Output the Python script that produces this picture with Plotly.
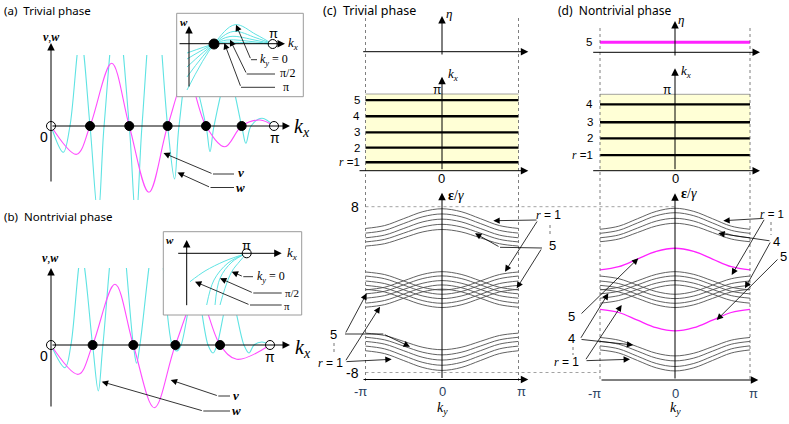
import plotly.graph_objects as go

W, H = 789, 424
SERIF = "Liberation Serif"
SANS = "Liberation Sans"
TITLEF = "Noto Sans"
CYAN = "#5fe3e3"
MAG = "#ff4cff"
BAND = "#505050"

# ---------------- (a) trivial phase : v (magenta), w (cyan) vs kx/pi ----------------
a_kx_v = [0, 0.115, 0.175, 0.272, 0.351, 0.439, 0.523, 0.609, 0.695, 0.78, 0.855, 0.937, 1.0]
a_v = [0, -2.83, 0, 6.27, 0, -6.63, 0, 5.0, 0, -2.07, 0, 0.6, 0]
a_kx_w = [0, 0.055, 0.085, 0.132, 0.175, 0.211, 0.238, 0.294, 0.351, 0.381, 0.408, 0.464,
          0.523, 0.554, 0.574, 0.619, 0.695, 0.713, 0.731, 0.794, 0.855, 0.874, 0.897, 0.946, 1.0]
a_w = [0, -2.63, 0, 9, 0, -9, 0, 12, 0, -9.5, 0, 14,
       0, -5.3, 0, 6, 0, -2.57, 0, 5, 0, -1.73, 0, 0.77, 0]
a_roots = [0.175, 0.351, 0.523, 0.695, 0.855]
a_ends = [0, 1]
# inset of (a): w near a root for several ky (ky = 0 ... pi)
a_in_kx = [[-0.024, 0.299, 0.55, 0.8, 1.0],
           [-0.024, 0.299, 0.526, 0.8, 1.0],
           [-0.024, 0.299, 0.49, 0.8, 1.0],
           [-0.024, 0.299, 0.454, 0.8, 1.0],
           [-0.024, 0.299, 0.418, 0.8, 1.0]]
a_in_w = [[-4.6, 0, 1.93, 0.95, 0],
          [-3.3, 0, 1.25, 0.62, 0],
          [-2.3, 0, 0.75, 0.37, 0],
          [-1.5, 0, 0.4, 0.2, 0],
          [-0.9, 0, 0.17, 0.08, 0]]
a_in_root = [0.299]

# ---------------- (b) nontrivial phase ----------------
b_kx_v = [0, 0.125, 0.19, 0.292, 0.376, 0.472, 0.568, 0.671, 0.772, 0.848, 1.0]
b_v = [0, -2.93, 0, 6.07, 0, -6.27, 0, 5.0, 0, -1.43, 0]
b_kx_w = [0, 0.064, 0.091, 0.139, 0.19, 0.216, 0.237, 0.306, 0.376, 0.391, 0.406, 0.484,
          0.553, 0.575, 0.594, 0.658, 0.717, 0.74, 0.758, 0.817, 0.881, 0.904, 0.927, 0.963, 1.0]
b_w = [0, -2.27, 0, 9, 0, -4.6, 0, 14, 0, -1.83, 0, 12,
       0, -0.6, 0, 6, 0, -0.8, 0, 5, 0, -0.8, 0, 0.3, 0]
b_roots = [0.19, 0.376, 0.568, 0.772]
b_ends = [0, 1]
b_in_kx = [[0.555, 0.638, 0.75, 0.888, 1.0],
           [0.472, 0.555, 0.755, 1.0],
           [0.333, 0.455, 0.688, 1.0],
           [0.055, 0.305, 0.638, 1.0]]
b_in_w = [[-5.17, -3.5, -1.84, -0.77, 0],
          [-5.17, -2.5, -0.87, 0],
          [-5.17, -2.67, -0.97, 0],
          [-2.84, -1.77, -0.77, 0]]
b_in_end = [1.0]

# ---------------- (c)/(d) bands, eps/gamma vs ky/pi ----------------
ky = [-1, -0.75, -0.5, -0.25, 0, 0.25, 0.5, 0.75, 1]
c_top = [[5.9, 6.18, 6.85, 7.52, 7.8, 7.52, 6.85, 6.18, 5.9],
         [5.45, 5.72, 6.38, 7.03, 7.3, 7.03, 6.38, 5.72, 5.45],
         [5.0, 5.26, 5.9, 6.54, 6.8, 6.54, 5.9, 5.26, 5.0],
         [4.6, 4.85, 5.45, 6.05, 6.3, 6.05, 5.45, 4.85, 4.6],
         [4.2, 4.43, 5.0, 5.57, 5.8, 5.57, 5.0, 4.43, 4.2]]
c_mid_cap = [[-0.03, 0.23, 0.85, 1.47, 1.73, 1.47, 0.85, 0.23, -0.03],
             [-0.41, -0.16, 0.46, 1.07, 1.32, 1.07, 0.46, -0.16, -0.41],
             [-0.83, -0.58, 0.02, 0.62, 0.87, 0.62, 0.02, -0.58, -0.83],
             [-1.31, -1.05, -0.43, 0.19, 0.45, 0.19, -0.43, -1.05, -1.31],
             [-1.70, -1.45, -0.83, -0.21, 0.04, -0.21, -0.83, -1.45, -1.70]]
c_mid_cup = [[0.03, -0.23, -0.85, -1.47, -1.73, -1.47, -0.85, -0.23, 0.03],
             [0.41, 0.16, -0.46, -1.07, -1.32, -1.07, -0.46, 0.16, 0.41],
             [0.83, 0.58, -0.02, -0.62, -0.87, -0.62, -0.02, 0.58, 0.83],
             [1.31, 1.05, 0.43, -0.19, -0.45, -0.19, 0.43, 1.05, 1.31],
             [1.70, 1.45, 0.83, 0.21, -0.04, 0.21, 0.83, 1.45, 1.70]]
c_bot = [[-5.9, -6.18, -6.85, -7.52, -7.8, -7.52, -6.85, -6.18, -5.9],
         [-5.45, -5.72, -6.38, -7.03, -7.3, -7.03, -6.38, -5.72, -5.45],
         [-5.0, -5.26, -5.9, -6.54, -6.8, -6.54, -5.9, -5.26, -5.0],
         [-4.6, -4.85, -5.45, -6.05, -6.3, -6.05, -5.45, -4.85, -4.6],
         [-4.2, -4.43, -5.0, -5.57, -5.8, -5.57, -5.0, -4.43, -4.2]]
c_kx_lines = [0.11, 0.30, 0.50, 0.71, 0.92]
c_kx_labels = ["r=1", "2", "3", "4", "5"]

d_top = [[5.82, 6.12, 6.84, 7.55, 7.85, 7.55, 6.84, 6.12, 5.82],
         [5.43, 5.72, 6.43, 7.13, 7.42, 7.13, 6.43, 5.72, 5.43],
         [5.0, 5.27, 5.94, 6.61, 6.88, 6.61, 5.94, 5.27, 5.0],
         [4.62, 4.88, 5.51, 6.14, 6.40, 6.14, 5.51, 4.88, 4.62]]
d_mid_cap = [[-0.03, 0.23, 0.85, 1.47, 1.73, 1.47, 0.85, 0.23, -0.03],
             [-0.41, -0.16, 0.46, 1.07, 1.32, 1.07, 0.46, -0.16, -0.41],
             [-0.83, -0.58, 0.02, 0.62, 0.87, 0.62, 0.02, -0.58, -0.83],
             [-1.31, -1.05, -0.43, 0.19, 0.45, 0.19, -0.43, -1.05, -1.31]]
d_mid_cup = [[0.03, -0.23, -0.85, -1.47, -1.73, -1.47, -0.85, -0.23, 0.03],
             [0.41, 0.16, -0.46, -1.07, -1.32, -1.07, -0.46, 0.16, 0.41],
             [0.83, 0.58, -0.02, -0.62, -0.87, -0.62, -0.02, 0.58, 0.83],
             [1.31, 1.05, 0.43, -0.19, -0.45, -0.19, 0.43, 1.05, 1.31]]
d_bot = [[-5.82, -6.12, -6.84, -7.55, -7.85, -7.55, -6.84, -6.12, -5.82],
         [-5.43, -5.72, -6.43, -7.13, -7.42, -7.13, -6.43, -5.72, -5.43],
         [-5.0, -5.27, -5.94, -6.61, -6.88, -6.61, -5.94, -5.27, -5.0],
         [-4.62, -4.88, -5.51, -6.14, -6.40, -6.14, -5.51, -4.88, -4.62]]
d_edge_upper = [1.9, 2.21, 2.95, 3.68, 3.99, 3.68, 2.95, 2.21, 1.9]
d_edge_lower = [-1.9, -2.21, -2.95, -3.68, -3.99, -3.68, -2.95, -2.21, -1.9]
d_kx_lines = [0.205, 0.424, 0.634, 0.869]
d_kx_labels = ["r=1", "2", "3", "4"]
d_eta = [1.0]
d_eta_label = "5"
bz_ky = [-1, 1]

# ---------------- helpers ----------------
fig = go.Figure()
L = dict(width=W, height=H, margin=dict(l=0, r=0, t=0, b=0), paper_bgcolor="white",
         plot_bgcolor="white", showlegend=False)
anns, shapes = [], []


def lin(pa, pb, p0, v0, p1, v1):
    s = (v1 - v0) / (p1 - p0)
    return [v0 + (pa - p0) * s, v0 + (pb - p0) * s]


def axes(n, xpx, ypx, xmap, ymap):
    sfx = "" if n == 1 else str(n)
    L["xaxis" + sfx] = dict(domain=[xpx[0] / W, xpx[1] / W], range=lin(xpx[0], xpx[1], *xmap),
                            anchor="y" + sfx, visible=False, fixedrange=True)
    L["yaxis" + sfx] = dict(domain=[1 - ypx[1] / H, 1 - ypx[0] / H], range=lin(ypx[1], ypx[0], *ymap),
                            anchor="x" + sfx, visible=False, fixedrange=True)
    return "x" + sfx, "y" + sfx


def akey(a):
    return a[0] + "axis" + a[1:]


def curve(x, y, xa, ya, color, width, shape="spline"):
    fig.add_trace(go.Scatter(x=x, y=y, xaxis=xa, yaxis=ya, mode="lines",
                             line=dict(color=color, width=width, shape=shape), hoverinfo="skip"))


def dots(x, xa, ya, filled=True, size=9):
    fig.add_trace(go.Scatter(x=x, y=[0] * len(x), xaxis=xa, yaxis=ya, mode="markers",
                             marker=dict(size=size, color="black" if filled else "white",
                                         line=dict(color="black", width=1)),
                             cliponaxis=False, hoverinfo="skip"))


def whitebox(xa, ya):
    xr = L[akey(xa)]["range"]
    yr = L[akey(ya)]["range"]
    fig.add_trace(go.Scatter(x=[xr[0], xr[1], xr[1], xr[0], xr[0]], y=[yr[0], yr[0], yr[1], yr[1], yr[0]],
                             xaxis=xa, yaxis=ya, mode="lines", fill="toself", fillcolor="white",
                             line=dict(width=0, color="white"), hoverinfo="skip"))
    shapes.append(dict(type="rect", xref=xa + " domain", yref=ya + " domain", x0=0, x1=1, y0=0, y1=1,
                       line=dict(color="#9a9a9a", width=1), layer="above"))


def arrow(tail, tip, w=0.8, size=1.6, color="black"):
    anns.append(dict(xref="paper", yref="paper", x=tip[0] / W, y=1 - tip[1] / H,
                     ax=tail[0] - tip[0], ay=tail[1] - tip[1], text="", showarrow=True,
                     arrowhead=2, arrowsize=size, arrowwidth=w, arrowcolor=color, standoff=0))


def seg(p, q, w=0.8, color="black", dash="solid"):
    shapes.append(dict(type="line", xref="paper", yref="paper", x0=p[0] / W, y0=1 - p[1] / H,
                       x1=q[0] / W, y1=1 - q[1] / H, line=dict(color=color, width=w, dash=dash)))


def text(p, s, size, family=SERIF, anchor="center", xref="paper", yref="paper", x=None, y=None):
    anns.append(dict(xref=xref, yref=yref,
                     x=(p[0] / W) if x is None else x, y=(1 - p[1] / H) if y is None else y,
                     text=s, showarrow=False, font=dict(family=family, size=size, color="black"),
                     xanchor=anchor, yanchor="middle"))


def rlab(s):
    if s.startswith("r="):
        return '<span style="font-family:Liberation Serif"><i>r</i></span> =' + s[2:]
    return s


KX = "<i>k</i><sub><i>x</i></sub>"
KY = "<i>k</i><sub><i>y</i></sub>"
BV = "<b><i>v</i></b>"
BW = "<b><i>w</i></b>"
EPS = "<b>ε</b>/<i>γ</i>"

# ---------------- subplots ----------------
XA, YA = axes(1, (40, 285), (55, 200), (51, 0, 274, 1), (126, 0, 116, 1))
XAI, YAI = axes(2, (176.7, 303.3), (13.3, 96.7), (189, 0, 272.7, 1), (44, 0, 34, 1))
XB, YB = axes(3, (40, 285), (268, 420), (51, 0, 270, 1), (345, 0, 335, 1))
XBI, YBI = axes(4, (163.3, 301.7), (231.7, 315), (186.7, 0, 246.7, 1), (253.3, 0, 243.3, 1))
XC1, YC1 = axes(5, (355, 530), (12, 60), (365.5, -1, 518.5, 1), (51.7, 0, 41.7, 1))
XC2, YC2 = axes(6, (355, 530), (62, 185), (365.5, -1, 518.5, 1), (170.7, 0, 94, 1))
XC3, YC3 = axes(7, (355, 530), (186, 384), (365.5, -1, 518.5, 1), (372.5, -8, 206.7, 8))
XD1, YD1 = axes(8, (585, 765), (12, 60), (600, -1, 750, 1), (52.3, 0, 42.3, 1))
XD2, YD2 = axes(9, (585, 765), (62, 185), (600, -1, 750, 1), (170.7, 0, 94.3, 1))
XD3, YD3 = axes(10, (585, 765), (186, 384), (600, -1, 750, 1), (372.5, -8, 206.7, 8))

# (a)
curve(a_kx_w, a_w, XA, YA, CYAN, 1.1)
curve(a_kx_v, a_v, XA, YA, MAG, 1.1)
dots(a_roots, XA, YA, True)
dots(a_ends, XA, YA, False)
whitebox(XAI, YAI)
for xs, ws in zip(a_in_kx, a_in_w):
    curve(xs, ws, XAI, YAI, CYAN, 1.0)
dots(a_in_root, XAI, YAI, True, 10)
dots([1.0], XAI, YAI, False, 9)

# (b)
curve(b_kx_w, b_w, XB, YB, CYAN, 1.1)
curve(b_kx_v, b_v, XB, YB, MAG, 1.1)
dots(b_roots, XB, YB, True)
dots(b_ends, XB, YB, False)
whitebox(XBI, YBI)
for xs, ws in zip(b_in_kx, b_in_w):
    curve(xs, ws, XBI, YBI, CYAN, 1.0)
dots(b_in_end, XBI, YBI, False, 9)

# (c), (d) Brillouin-zone strips
for XK, YK, lines in ((XC2, YC2, c_kx_lines), (XD2, YD2, d_kx_lines)):
    fig.add_trace(go.Scatter(x=[bz_ky[0], bz_ky[1], bz_ky[1], bz_ky[0], bz_ky[0]], y=[0, 0, 1, 1, 0],
                             xaxis=XK, yaxis=YK, mode="lines", fill="toself", fillcolor="#ffffd6",
                             line=dict(width=0, color="#ffffd6"), hoverinfo="skip"))
    curve(bz_ky, [1, 1], XK, YK, "#8a8a8a", 0.8, "linear")
    for k in lines:
        curve(bz_ky, [k, k], XK, YK, "black", 2.3, "linear")

for grp in (c_top, c_mid_cap, c_mid_cup, c_bot):
    for band in grp:
        curve(ky, band, XC3, YC3, BAND, 0.9)
for grp in (d_top, d_mid_cap, d_mid_cup, d_bot):
    for band in grp:
        curve(ky, band, XD3, YD3, BAND, 0.9)
curve(ky, d_edge_upper, XD3, YD3, "#ff22ff", 1.3)
curve(ky, d_edge_lower, XD3, YD3, "#ff22ff", 1.3)
curve(bz_ky, [d_eta[0], d_eta[0]], XD1, YD1, "#ff22ff", 3, "linear")

# dashed boundaries ky = +-pi and dotted eps = +-8 levels
for xv in bz_ky:
    shapes.append(dict(type="line", xref=XC3, yref="paper", x0=xv, x1=xv, y0=1 - 18 / H, y1=1 - 382 / H,
                       line=dict(color="#707070", width=0.9, dash="dot")))
    shapes.append(dict(type="line", xref=XD3, yref="paper", x0=xv, x1=xv, y0=1 - 28 / H, y1=1 - 380 / H,
                       line=dict(color="#707070", width=0.9, dash="dot")))
shapes.append(dict(type="line", xref="paper", yref=YC3, x0=365.5 / W, x1=675 / W, y0=8, y1=8,
                   line=dict(color="#8a8a8a", width=0.8, dash="dot")))
shapes.append(dict(type="line", xref="paper", yref=YC3, x0=365.5 / W, x1=600 / W, y0=-8, y1=-8,
                   line=dict(color="#8a8a8a", width=0.8, dash="dot")))

# ---------------- axes arrows ----------------
for tail, tip in [((51, 183), (51, 43)), ((51, 126), (290, 126)),
                  ((189, 88), (189, 26)), ((178, 43.7), (285, 43.7)),
                  ((51, 408), (51, 268)), ((51, 345), (290, 345)),
                  ((186.7, 306.7), (186.7, 240)), ((176.7, 253.3), (281.7, 253.3)),
                  ((442, 56), (442, 16)), ((361.7, 51.7), (528.3, 51.7)),
                  ((442, 170.7), (442, 76.7)), ((358, 170.7), (528.3, 170.7)),
                  ((442, 379.5), (442, 192.7)), ((362, 379.5), (528.3, 379.5)),
                  ((675, 57), (675, 21)), ((591.7, 52.3), (760, 52.3)),
                  ((675, 170.7), (675, 68.3)), ((591.7, 170.7), (760, 170.7)),
                  ((675, 380), (675, 193.3)), ((600, 380), (758.3, 380))]:
    arrow(tail, tip, 1.0, 1.5)

# ---------------- titles ----------------
text((2, 10), "(a)\u00a0 Trivial phase", 11.5, TITLEF, "left")
text((2, 216.5), "(b)\u00a0 Nontrivial phase", 11.5, TITLEF, "left")
text((321, 10), "(c)\u00a0 Trivial phase", 12.5, TITLEF, "left")
text((556, 10), "(d)\u00a0 Nontrivial phase", 12, TITLEF, "left")

# ---------------- (a) labels ----------------
text((51, 37), BV + "," + BW, 12)
text((43.5, 137), "0", 14, SANS)
text((275, 138), "π", 14, SANS)
text((292, 128), KX, 20, SERIF, "left")
arrow((213, 174), (163.5, 153)); seg((213, 174), (234, 174))
arrow((210.5, 187.5), (177.5, 172.5)); seg((210.5, 187.5), (234, 187.5))
text((240.5, 172.5), BV, 13)
text((240.5, 187.5), BW, 13)
text((183.5, 22), BW, 11)
text((273.3, 33.5), "π", 13, SANS)
text((286, 44), KX, 13, SERIF, "left")
arrow((251, 59.7), (236, 24.7)); seg((251, 59.7), (257, 59.7))
text((258, 60), KY + " = 0", 12, SERIF, "left")
arrow((246.7, 74), (230, 39.7)); seg((246.7, 74), (275, 74))
text((278, 73), "π/2", 12, SERIF, "left")
arrow((241, 87.3), (224.3, 43)); seg((241, 87.3), (275, 87.3))
text((286, 87), "π", 12)

# ---------------- (b) labels ----------------
text((50, 258), BV + "," + BW, 12)
text((43.5, 355.5), "0", 14, SANS)
text((270, 357), "π", 14, SANS)
text((293, 348), KX, 20, SERIF, "left")
arrow((218.3, 396), (170.7, 380)); seg((218.3, 396), (230, 396))
arrow((203.3, 411), (101.7, 381.7)); seg((203.3, 411), (230, 411))
text((236, 395.5), BV, 13)
text((236, 410.5), BW, 13)
text((170, 240), BW, 11)
text((246.5, 245.5), "π", 13, SANS)
text((285, 253.3), KX, 13, SERIF, "left")
arrow((243.3, 276.7), (231.7, 271.7)); seg((243.3, 276.7), (253, 276.7))
text((255, 277), KY + " = 0", 12, SERIF, "left")
arrow((253.3, 293), (220, 278.3)); seg((253.3, 293), (281.7, 293))
text((283, 293), "π/2", 11, SERIF, "left")
arrow((250, 305), (195, 281.7)); seg((250, 305), (281.7, 305))
text((287, 306), "π", 11)

# ---------------- (c) labels ----------------
text((449, 13.5), "<i>η</i>", 13)
text((446, 75), KX, 13, SERIF, "left")
text((437, 89.5), "π", 12, SANS)
for k, s in zip(c_kx_lines, c_kx_labels):
    text((362, 0), rlab(s), 11.5, SANS, "right", yref=YC2, y=k)
text((441.5, 178.5), "0", 13, SANS)
text((446, 195), EPS, 14, SERIF, "left")
text((361, 0), "8", 14, SANS, "right", yref=YC3, y=8)
text((361, 0), "-8", 14, SANS, "right", yref=YC3, y=-8)
for xv, s, dx in ((-1, "-π", -5), (0, "0", 0), (1, "π", 3)):
    anns.append(dict(xref=XC3, yref="paper", x=xv, y=1 - 391.5 / H, xshift=dx, text=s, showarrow=False,
                     font=dict(family=SANS, size=13), xanchor="center", yanchor="middle"))
text((442, 408), KY, 14)
# right side leaders
text((548, 215), rlab("r= 1"), 12, SANS)
seg((550, 225), (550, 237), 1, "#777", "dot")
text((552, 245.5), "5", 13, SANS)
arrow((538, 220), (493.3, 220.7)); arrow((538, 220), (505, 271.7))
seg((542, 248), (500, 247.3)); arrow((500, 247.3), (475, 233.3)); arrow((542, 248), (516.7, 288.3))
# left side leaders
text((333.5, 334), "5", 13, SANS)
seg((334, 343), (334, 354), 1, "#777", "dot")
text((330, 362.5), rlab("r= 1"), 12, SANS)
arrow((345, 334), (366.7, 293.3)); seg((345, 334), (383.3, 334)); arrow((383.3, 334), (410, 346.7))
arrow((345, 361.7), (380, 306.7)); arrow((345, 361.7), (391.7, 359.3))

# ---------------- (d) labels ----------------
text((681, 20), "<i>η</i>", 13)
text((594, 0), d_eta_label, 11.5, SANS, "right", yref=YD1, y=d_eta[0])
text((679, 71.7), KX, 13, SERIF, "left")
text((667, 90), "π", 12, SANS)
for k, s in zip(d_kx_lines, d_kx_labels):
    text((595, 0), rlab(s), 11.5, SANS, "right", yref=YD2, y=k)
text((675, 178.5), "0", 13, SANS)
text((679, 193.5), EPS, 14, SERIF, "left")
for xv, s, dx in ((-1, "-π", -6), (0, "0", 0), (1, "π", 3)):
    anns.append(dict(xref=XD3, yref="paper", x=xv, y=1 - 393 / H, xshift=dx, text=s, showarrow=False,
                     font=dict(family=SANS, size=13), xanchor="center", yanchor="middle"))
text((675, 408), KY, 14)
text((771.5, 213.5), rlab("r= 1"), 11.5, SANS)
seg((771, 222), (771, 235), 1, "#777", "dot")
text((776, 241.7), "4", 13, SANS)
text((783, 256.7), "5", 13, SANS)
arrow((765, 218.3), (723.3, 220.7)); arrow((765, 218.3), (731.7, 275))
arrow((771, 241), (718.3, 233.3)); arrow((771, 241), (745, 288.3))
arrow((779, 258), (716.7, 320))
text((571.7, 316.7), "5", 13, SANS)
text((571.7, 338.3), "4", 13, SANS)
seg((573, 347), (573, 355), 1, "#777", "dot")
text((566, 362), rlab("r= 1"), 12, SANS)
arrow((580, 315), (638.3, 258.3))
arrow((580, 339.3), (608.3, 293.3)); arrow((580, 339.3), (633.3, 345))
arrow((585, 360.7), (621.7, 305)); arrow((585, 360.7), (630, 359.3))

L["annotations"] = anns
L["shapes"] = shapes
fig.update_layout(**L)
fig.write_html("out.html", config={"displayModeBar": False},
               post_script="document.body.style.margin='0px';")
